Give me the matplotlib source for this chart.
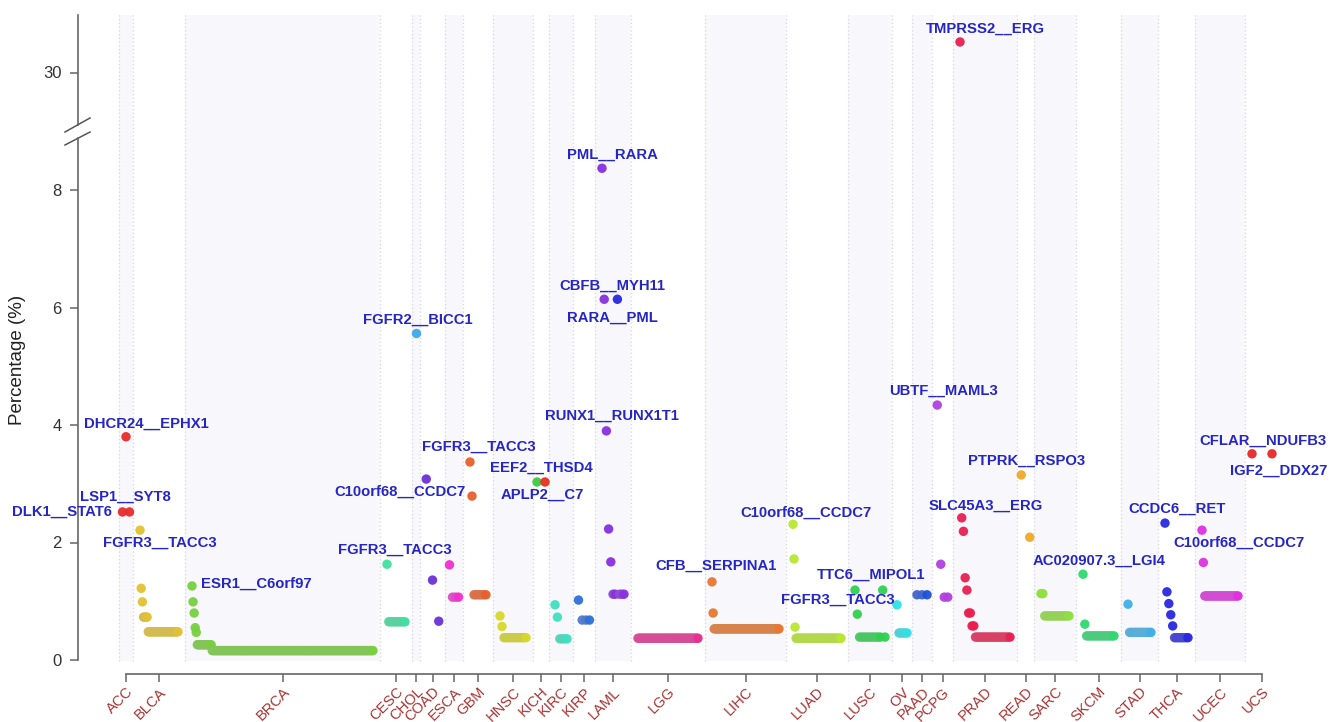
import numpy as np
import matplotlib
matplotlib.use("Agg")
import matplotlib.pyplot as plt
from matplotlib.colors import to_rgb

plt.rcParams['font.family'] = ['Liberation Sans', 'DejaVu Sans']

# ── data ──────────────────────────────────────────────────────────────────────
CANCERS = ["ACC", "BLCA", "BRCA", "CESC", "CHOL", "COAD", "ESCA", "GBM", "HNSC",
           "KICH", "KIRC", "KIRP", "LAML", "LGG", "LIHC", "LUAD", "LUSC", "OV",
           "PAAD", "PCPG", "PRAD", "READ", "SARC", "SKCM", "STAD", "THCA",
           "UCEC", "UCS"]

# width of each cancer band on the x axis
BAND_WIDTH = [14, 52, 195, 32, 8, 25, 18, 30, 40, 16, 24, 22, 36, 74, 81, 62,
              44, 20, 20, 21, 64, 17, 42, 45, 37, 37, 50, 34]

# fusion percentages per cancer, left to right
VALUES = {
    "ACC":  [2.52, 3.80, 2.52],
    "BLCA": [2.21, 1.22, 0.99] + [0.73] * 4 + [0.48] * 26,
    "BRCA": [1.26, 0.99, 0.80, 0.55, 0.47] + [0.26] * 14 + [0.16] * 152,
    "CESC": [1.63] + [0.65] * 10,
    "CHOL": [5.57],
    "COAD": [3.08, 1.36, 0.66],
    "ESCA": [1.62, 1.07, 1.07, 1.07],
    "GBM":  [3.37, 2.79] + [1.11] * 7,
    "HNSC": [0.75, 0.57] + [0.38] * 12,
    "KICH": [3.03, 3.03],
    "KIRC": [0.94, 0.73] + [0.36] * 4,
    "KIRP": [1.02] + [0.68] * 3,
    "LAML": [8.37, 6.14, 3.90, 2.23, 1.67, 1.12, 1.12, 6.14, 1.12, 1.12, 1.12],
    "LGG":  [0.37] * 60,
    "LIHC": [1.33, 0.80] + [0.53] * 60,
    "LUAD": [2.31, 1.72, 0.56] + [0.37] * 45,
    "LUSC": [1.19, 0.78] + [0.39] * 10 + [1.19, 0.39],
    "OV":   [0.94] + [0.46] * 5,
    "PAAD": [1.11] * 3,
    "PCPG": [4.34, 1.63, 1.07, 1.07],
    "PRAD": [30.52, 2.42, 2.19, 1.40, 1.19, 0.80, 0.80, 0.58, 0.58] + [0.39] * 21,
    "READ": [3.15, 2.09],
    "SARC": [1.13, 1.13] + [0.75] * 14,
    "SKCM": [1.46, 0.61] + [0.41] * 16,
    "STAD": [0.95] + [0.47] * 14,
    "THCA": [2.33, 1.16, 0.96, 0.77, 0.58] + [0.38] * 8,
    "UCEC": [2.21, 1.66] + [1.09] * 25,
    "UCS":  [3.51, 3.51],
}

COLORS = {
    "ACC": "#E82A2A", "BLCA": "#E2C232", "BRCA": "#78D040", "CESC": "#40E0A0",
    "CHOL": "#40A8E8", "COAD": "#6A30D8", "ESCA": "#F030D0", "GBM": "#E8602A",
    "HNSC": "#D8D828", "KICH": "#E83020", "KIRC": "#40E0C0", "KIRP": "#3070D8",
    "LAML": "#8A30E0", "LGG": "#E83090", "LIHC": "#E87830", "LUAD": "#B8E830",
    "LUSC": "#30D050", "OV": "#30E0E8", "PAAD": "#2050D8", "PCPG": "#B040E0",
    "PRAD": "#E82050", "READ": "#F0A828", "SARC": "#90E040", "SKCM": "#30D870",
    "STAD": "#40B0E8", "THCA": "#2828E0", "UCEC": "#E030E0", "UCS": "#E82828",
}

# labelled fusions: (cancer, index in VALUES, name)
LABELS = [
    ("ACC", 0, "DLK1__STAT6"), ("ACC", 1, "DHCR24__EPHX1"), ("ACC", 2, "LSP1__SYT8"),
    ("BLCA", 0, "FGFR3__TACC3"), ("BRCA", 0, "ESR1__C6orf97"),
    ("CESC", 0, "FGFR3__TACC3"), ("CHOL", 0, "FGFR2__BICC1"),
    ("GBM", 0, "FGFR3__TACC3"), ("GBM", 1, "C10orf68__CCDC7"),
    ("KICH", 0, "EEF2__THSD4"), ("KICH", 1, "APLP2__C7"),
    ("LAML", 0, "PML__RARA"), ("LAML", 1, "CBFB__MYH11"),
    ("LAML", 2, "RUNX1__RUNX1T1"), ("LAML", 7, "RARA__PML"),
    ("LIHC", 0, "CFB__SERPINA1"), ("LUAD", 0, "C10orf68__CCDC7"),
    ("LUSC", 0, "TTC6__MIPOL1"), ("LUSC", 1, "FGFR3__TACC3"),
    ("PCPG", 0, "UBTF__MAML3"), ("PRAD", 0, "TMPRSS2__ERG"),
    ("PRAD", 1, "SLC45A3__ERG"), ("READ", 0, "PTPRK__RSPO3"),
    ("SKCM", 0, "AC020907.3__LGI4"), ("THCA", 0, "CCDC6__RET"),
    ("UCEC", 1, "C10orf68__CCDC7"), ("UCS", 0, "CFLAR__NDUFB3"),
    ("UCS", 1, "IGF2__DDX27"),
]
# label text offsets from the point, in pixels (dx, dy)
LABEL_OFFSET = [
    (-61, 0), (20, 13), (-4, 15),
    (20, -13), (64, 2),
    (8, 15), (2, 13),
    (9, 15), (-72, 4),
    (4, 14), (-3, -13),
    (10, 14), (8, 14),
    (6, 15), (-5, -18),
    (4, 16), (13, 12),
    (16, 15), (-19, 14),
    (6, 14), (25, 13),
    (24, 12), (5, 14),
    (16, 14), (12, 14),
    (36, 20), (11, 13),
    (7, -17),
]
POINT_COLOR = {"EEF2__THSD4": "#40C840", "RARA__PML": "#2828E0"}

# ── layout ────────────────────────────────────────────────────────────────────
W, H = 1329, 722
AX_LEFT = 78          # px of y axis
X0 = 119              # px of first band
Y0, SCALE = 660, 58.75
GAP_LO, GAP_SHIFT = 9.0, 20.0
TOP = 10.98


def ty(v):
    return v - GAP_SHIFT if v > GAP_LO else v


def desat(c, f=0.25):
    r = np.array(to_rgb(c))
    return tuple(r * (1 - f) + np.array([0.65, 0.65, 0.65]) * f)


fig = plt.figure(figsize=(W / 100, H / 100), dpi=100)
ax = fig.add_axes([AX_LEFT / W, 0, 1 - AX_LEFT / W, 1])
ax.set_xlim(AX_LEFT - X0, W - X0)
ax.set_ylim(-(H - Y0) / SCALE, Y0 / SCALE)

starts = np.concatenate([[0], np.cumsum(BAND_WIDTH)[:-1]])
widths = np.array(BAND_WIDTH, dtype=float)
centers = starts + widths / 2

# background bands + dotted separators
for i, (s, w) in enumerate(zip(starts, widths)):
    if i % 2 == 0:
        ax.bar(s + w / 2, TOP + 0.02, width=w, bottom=-0.02, color="#F8F8FC",
               linewidth=0, zorder=0)
ax.vlines(starts, -0.02, TOP, colors="#D6D6DC", linestyles=(0, (1, 2)),
          linewidth=0.9, zorder=1)

# points
pos = {}
for c, s, w in zip(CANCERS, starts, widths):
    vals = VALUES[c]
    n = len(vals)
    pad = min(7.0, 0.25 * w)
    xs = np.array([s + w / 2]) if n == 1 else np.linspace(s + pad, s + w - pad, n)
    pos[c] = xs
    base = COLORS[c]
    cols = []
    for i, v in enumerate(vals):
        run = vals.count(v)
        in_run = run >= 3 and i + 1 < n and vals[i + 1] == v
        cols.append(desat(base) if in_run else to_rgb(base))
    for lab_c, idx, name in LABELS:
        if lab_c == c and name in POINT_COLOR:
            cols[idx] = to_rgb(POINT_COLOR[name])
    ax.scatter(xs, [ty(v) for v in vals], s=46, c=cols, linewidths=0,
               zorder=3, alpha=0.95)

# labels
for (c, idx, name), (dx, dy) in zip(LABELS, LABEL_OFFSET):
    ax.annotate(name, xy=(pos[c][idx], ty(VALUES[c][idx])), xytext=(dx, dy),
                textcoords="offset pixels", ha="center", va="center",
                fontsize=10.7, fontweight="bold", color="#2626C4", zorder=5,
                annotation_clip=False)

# axes
axis_col = "#666666"
for sp in ("top", "right"):
    ax.spines[sp].set_visible(False)
ax.spines["left"].set_bounds(0, 8.88)
ax.spines["left"].set_color(axis_col)
ax.spines["left"].set_linewidth(1.2)
ax.plot([AX_LEFT - X0] * 2, [9.11, TOP], color=axis_col, lw=1.2, clip_on=False)
# break marks
for y1, y2 in ((8.987, 9.226), (8.766, 8.987)):
    ax.plot([65 - X0, 90 - X0], [y1, y2], color="#555555", lw=1.1, clip_on=False)

ax.spines["bottom"].set_position(("data", -0.238))
ax.spines["bottom"].set_bounds(centers[0], centers[-1])
ax.spines["bottom"].set_color(axis_col)
ax.spines["bottom"].set_linewidth(1.2)

ax.set_yticks([0, 2, 4, 6, 8, ty(30)])
ax.set_yticklabels(["0", "2", "4", "6", "8", "30"])
ax.tick_params(axis="y", length=5.8, width=1.1, color=axis_col,
               labelcolor="#333333", labelsize=12, pad=6)
ax.set_xticks(centers)
ax.set_xticklabels(CANCERS, rotation=45, ha="right", rotation_mode="anchor")
ax.tick_params(axis="x", length=5.8, width=1.1, color=axis_col,
               labelcolor="#A83232", labelsize=10.5, pad=2)

fig.text(18 / W, 1 - 360 / H, "Percentage (%)", rotation=90, ha="center",
         va="center", fontsize=13.5, color="#222222")

fig.savefig("out.png", dpi=100)
